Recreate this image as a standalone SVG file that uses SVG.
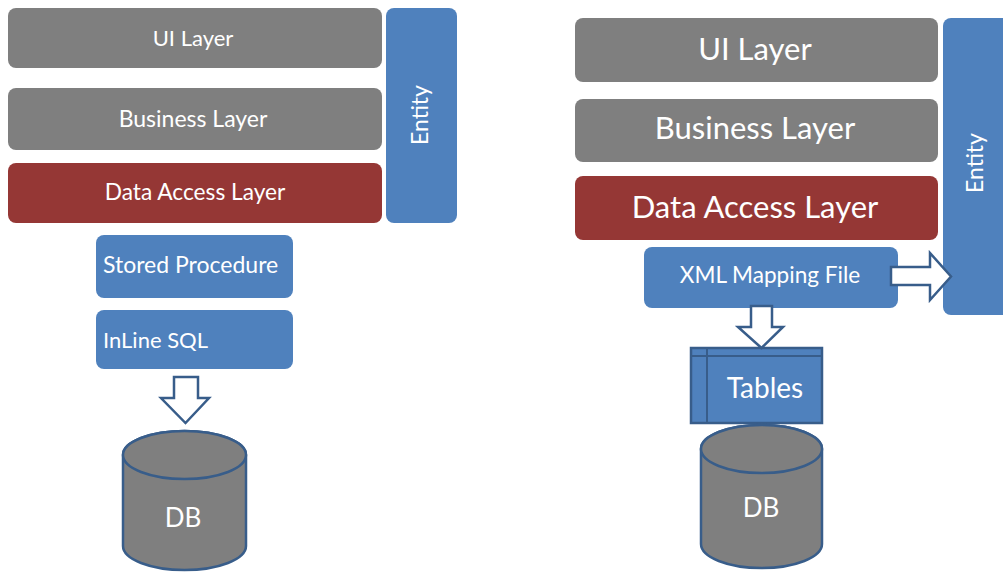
<svg xmlns="http://www.w3.org/2000/svg" width="1003" height="578" viewBox="0 0 1003 578">
  <style>
    .gray { fill: #7f7f7f; }
    .red { fill: #953735; }
    .blue { fill: #4f81bd; }
    .lbl { fill: #ffffff; font-family: Lato, "Liberation Sans", sans-serif; }
    .mid { text-anchor: middle; }
    .arrow { fill: #ffffff; stroke: #385d8a; stroke-width: 2.5; stroke-linejoin: miter; }
    .cyl { fill: #7f7f7f; stroke: #385d8a; stroke-width: 2.5; }
    .tbl { fill: #4f81bd; stroke: #385d8a; stroke-width: 2.5; }
  </style>
  <rect width="1003" height="578" fill="#ffffff"/>

  <!-- Left stack: classic data access -->
  <g id="l-ui">
    <rect class="gray" x="8" y="8" width="374" height="60" rx="8"/>
    <text class="lbl mid" x="193" y="46" font-size="22">UI Layer</text>
  </g>
  <g id="l-business">
    <rect class="gray" x="8" y="88" width="374" height="62" rx="8"/>
    <text class="lbl mid" x="193" y="127" font-size="23">Business Layer</text>
  </g>
  <g id="l-dal">
    <rect class="red" x="8" y="163" width="374" height="60" rx="8"/>
    <text class="lbl mid" x="195" y="200" font-size="22.7">Data Access Layer</text>
  </g>
  <g id="l-entity">
    <rect class="blue" x="386" y="8" width="71" height="215" rx="8"/>
    <text class="lbl mid" transform="translate(428 115) rotate(-90)" font-size="23">Entity</text>
  </g>
  <g id="l-sp">
    <rect class="blue" x="96" y="235" width="197" height="63" rx="8"/>
    <text class="lbl" x="103" y="273" font-size="23">Stored Procedure</text>
  </g>
  <g id="l-inline">
    <rect class="blue" x="96" y="310" width="197" height="59" rx="8"/>
    <text class="lbl" x="103" y="348" font-size="22">InLine SQL</text>
  </g>
  <g id="l-db">
    <path class="cyl" d="M123 455 L123 546 A61.5 24 0 0 0 246 546 L246 455 A61.5 24 0 0 0 123 455 Z"/>
    <ellipse class="cyl" cx="184.5" cy="455" rx="61.5" ry="24"/>
    <text class="lbl mid" x="183" y="527" font-size="26">DB</text>
  </g>

  <!-- Right stack: mapping-based data access -->
  <g id="r-ui">
    <rect class="gray" x="575" y="18" width="363" height="64" rx="8"/>
    <text class="lbl mid" x="755" y="60" font-size="31">UI Layer</text>
  </g>
  <g id="r-business">
    <rect class="gray" x="575" y="99" width="363" height="63" rx="8"/>
    <text class="lbl mid" x="755" y="139" font-size="31">Business Layer</text>
  </g>
  <g id="r-dal">
    <rect class="red" x="575" y="176" width="363" height="64" rx="8"/>
    <text class="lbl mid" x="755" y="218" font-size="31">Data Access Layer</text>
  </g>
  <g id="r-entity">
    <rect class="blue" x="943" y="18" width="72" height="297" rx="8"/>
    <text class="lbl mid" transform="translate(983 163) rotate(-90)" font-size="23">Entity</text>
  </g>
  <g id="r-xml">
    <rect class="blue" x="644" y="247" width="254" height="61" rx="8"/>
    <text class="lbl mid" x="770" y="283" font-size="22.6">XML Mapping File</text>
  </g>
  <g id="r-tables">
    <rect class="tbl" x="691" y="348" width="131" height="75"/>
    <line x1="691" y1="356" x2="822" y2="356" stroke="#385d8a" stroke-width="2"/>
    <line x1="707" y1="348" x2="707" y2="423" stroke="#385d8a" stroke-width="2"/>
    <text class="lbl mid" x="765" y="398" font-size="28">Tables</text>
  </g>
  <g id="r-db">
    <path class="cyl" d="M701 449 L701 544 A60.5 24 0 0 0 822 544 L822 449 A60.5 24 0 0 0 701 449 Z"/>
    <ellipse class="cyl" cx="761.5" cy="449" rx="60.5" ry="24"/>
    <text class="lbl mid" x="761" y="517" font-size="26">DB</text>
  </g>

  <!-- Block arrows -->
  <g id="connectors">
    <path class="arrow" d="M174 377 L198 377 L198 398 L209 398 L185.5 423 L161 398 L174 398 Z"/>
    <path class="arrow" d="M751 306 L772 306 L772 327 L783 327 L761.5 348 L738 327 L751 327 Z"/>
    <path class="arrow" d="M891 267 L930 267 L930 253 L951 276.5 L930 300 L930 285 L891 285 Z"/>
  </g>
</svg>
